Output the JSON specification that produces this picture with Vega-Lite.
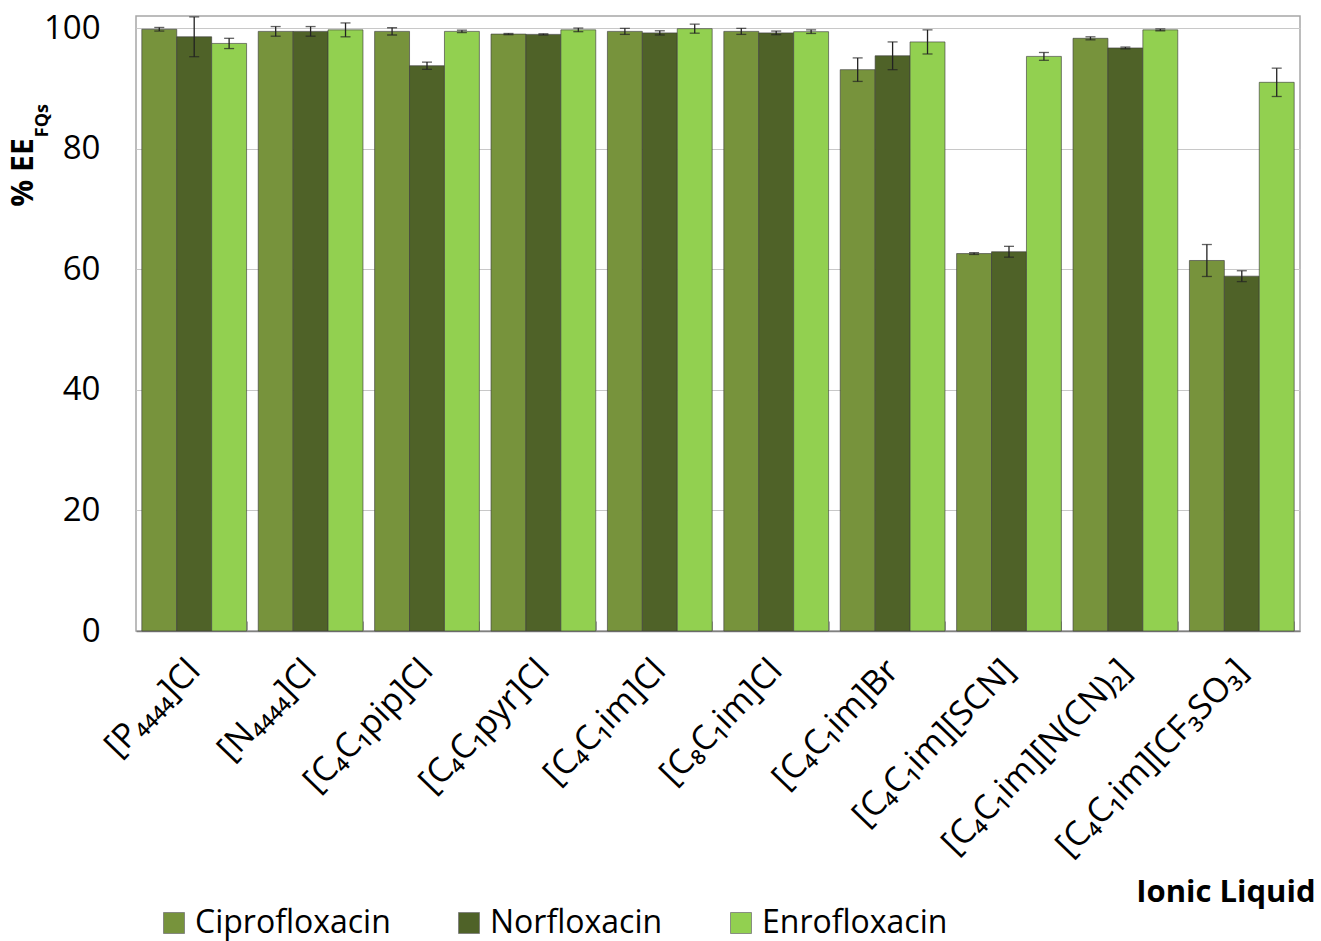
{
  "$schema": "https://vega.github.io/schema/vega-lite/v6.json",
  "autosize": {"type": "none"},
  "padding": {"left": 136, "top": 16, "right": 21, "bottom": 310},
  "width": 1164,
  "height": 615,
  "background": "white",
  "config": {
    "font": "Open Sans",
    "view": {"stroke": "#a6a6a6", "strokeWidth": 1.5}
  },
  "title": {
    "text": "FQs", "orient": "left", "anchor": "end", "frame": "group",
    "fontSize": 18, "fontWeight": "bold", "color": "#000", "angle": -90,
    "offset": -44, "dx": -88
  },
  "data": {
    "values": [
      {"il": "[P₄₄₄₄]Cl", "drug": "Ciprofloxacin", "v": 99.8, "lo": 99.5, "hi": 100.1},
      {"il": "[P₄₄₄₄]Cl", "drug": "Norfloxacin", "v": 98.55, "lo": 95.25, "hi": 101.85},
      {"il": "[P₄₄₄₄]Cl", "drug": "Enrofloxacin", "v": 97.45, "lo": 96.6, "hi": 98.3},
      {"il": "[N₄₄₄₄]Cl", "drug": "Ciprofloxacin", "v": 99.45, "lo": 98.65, "hi": 100.25},
      {"il": "[N₄₄₄₄]Cl", "drug": "Norfloxacin", "v": 99.45, "lo": 98.65, "hi": 100.25},
      {"il": "[N₄₄₄₄]Cl", "drug": "Enrofloxacin", "v": 99.7, "lo": 98.55, "hi": 100.85},
      {"il": "[C₄C₁pip]Cl", "drug": "Ciprofloxacin", "v": 99.45, "lo": 98.85, "hi": 100.05},
      {"il": "[C₄C₁pip]Cl", "drug": "Norfloxacin", "v": 93.75, "lo": 93.15, "hi": 94.35},
      {"il": "[C₄C₁pip]Cl", "drug": "Enrofloxacin", "v": 99.45, "lo": 99.25, "hi": 99.65},
      {"il": "[C₄C₁pyr]Cl", "drug": "Ciprofloxacin", "v": 99.0, "lo": 98.9, "hi": 99.1},
      {"il": "[C₄C₁pyr]Cl", "drug": "Norfloxacin", "v": 98.95, "lo": 98.85, "hi": 99.05},
      {"il": "[C₄C₁pyr]Cl", "drug": "Enrofloxacin", "v": 99.7, "lo": 99.4, "hi": 100.0},
      {"il": "[C₄C₁im]Cl", "drug": "Ciprofloxacin", "v": 99.45, "lo": 98.95, "hi": 99.95},
      {"il": "[C₄C₁im]Cl", "drug": "Norfloxacin", "v": 99.2, "lo": 98.85, "hi": 99.55},
      {"il": "[C₄C₁im]Cl", "drug": "Enrofloxacin", "v": 99.9, "lo": 99.15, "hi": 100.65},
      {"il": "[C₈C₁im]Cl", "drug": "Ciprofloxacin", "v": 99.45, "lo": 98.95, "hi": 99.95},
      {"il": "[C₈C₁im]Cl", "drug": "Norfloxacin", "v": 99.2, "lo": 98.9, "hi": 99.5},
      {"il": "[C₈C₁im]Cl", "drug": "Enrofloxacin", "v": 99.4, "lo": 99.1, "hi": 99.7},
      {"il": "[C₄C₁im]Br", "drug": "Ciprofloxacin", "v": 93.1, "lo": 91.15, "hi": 95.05},
      {"il": "[C₄C₁im]Br", "drug": "Norfloxacin", "v": 95.4, "lo": 93.1, "hi": 97.7},
      {"il": "[C₄C₁im]Br", "drug": "Enrofloxacin", "v": 97.7, "lo": 95.7, "hi": 99.7},
      {"il": "[C₄C₁im][SCN]", "drug": "Ciprofloxacin", "v": 62.6, "lo": 62.45, "hi": 62.75},
      {"il": "[C₄C₁im][SCN]", "drug": "Norfloxacin", "v": 62.9, "lo": 62.0, "hi": 63.8},
      {"il": "[C₄C₁im][SCN]", "drug": "Enrofloxacin", "v": 95.3, "lo": 94.65, "hi": 95.95},
      {"il": "[C₄C₁im][N(CN)₂]", "drug": "Ciprofloxacin", "v": 98.3, "lo": 98.05, "hi": 98.55},
      {"il": "[C₄C₁im][N(CN)₂]", "drug": "Norfloxacin", "v": 96.7, "lo": 96.55, "hi": 96.85},
      {"il": "[C₄C₁im][N(CN)₂]", "drug": "Enrofloxacin", "v": 99.7, "lo": 99.55, "hi": 99.85},
      {"il": "[C₄C₁im][CF₃SO₃]", "drug": "Ciprofloxacin", "v": 61.45, "lo": 58.8, "hi": 64.1},
      {"il": "[C₄C₁im][CF₃SO₃]", "drug": "Norfloxacin", "v": 58.85, "lo": 57.95, "hi": 59.75},
      {"il": "[C₄C₁im][CF₃SO₃]", "drug": "Enrofloxacin", "v": 91.0, "lo": 88.65, "hi": 93.35}
    ]
  },
  "encoding": {
    "x": {
      "field": "il", "type": "nominal", "sort": null,
      "scale": {"paddingInner": 0.1, "paddingOuter": 0.05},
      "axis": {
        "title": "Ionic Liquid",
        "titleFont": "Open Sans", "titleFontSize": 31, "titleFontWeight": "bold", "titleColor": "#000",
        "titleAnchor": "end", "titleAlign": "right", "titleBaseline": "middle",
        "titleX": 1179, "titleY": 261,
        "labelAngle": -46, "labelAlign": "right", "labelBaseline": "middle",
        "labelFontSize": 34, "labelColor": "#000", "labelPadding": 44, "labelLimit": 0,
        "ticks": true, "tickBand": "extent", "tickSize": -10, "tickColor": "#a6a6a6",
        "domainColor": "#808080", "domainWidth": 1.5, "grid": false
      }
    },
    "xOffset": {"field": "drug", "type": "nominal", "sort": ["Ciprofloxacin", "Norfloxacin", "Enrofloxacin"], "scale": {"paddingInner": 0, "paddingOuter": 0}}
  },
  "layer": [
    {
      "mark": {"type": "bar", "stroke": "#3d3d3d", "strokeWidth": 0.8, "strokeOpacity": 0.8},
      "encoding": {
        "y": {
          "field": "v", "type": "quantitative",
          "scale": {"domain": [0, 102], "nice": false},
          "axis": {
            "title": "% EE", "titleFontSize": 30, "titleFontWeight": "bold", "titleColor": "#000",
            "titleAngle": -90, "titleAlign": "center", "titleBaseline": "middle", "titleX": -113, "titleY": 156,
            "values": [0, 20, 40, 60, 80, 100],
            "labelFontSize": 33, "labelColor": "#000", "labelPadding": 36,
            "ticks": false, "domain": false,
            "grid": true, "gridColor": "#c8c8c8", "gridWidth": 1.2
          }
        },
        "color": {
          "field": "drug", "type": "nominal",
          "sort": ["Ciprofloxacin", "Norfloxacin", "Enrofloxacin"],
          "scale": {"domain": ["Ciprofloxacin", "Norfloxacin", "Enrofloxacin"], "range": ["#77933c", "#4f6228", "#92d050"]},
          "legend": {
            "title": null, "orient": "none", "direction": "horizontal",
            "legendX": 22, "legendY": 891,
            "symbolType": "square", "symbolSize": 441, "symbolStrokeColor": "#777", "symbolStrokeWidth": 0.8,
            "labelFontSize": 32, "labelColor": "#000", "labelOffset": 5, "columnPadding": 62, "labelLimit": 0
          }
        }
      }
    },
    {
      "mark": {"type": "rule", "color": "#222", "strokeWidth": 1.3},
      "encoding": {
        "y": {"field": "lo", "type": "quantitative"},
        "y2": {"field": "hi"}
      }
    },
    {
      "mark": {"type": "tick", "color": "#222", "thickness": 1.3, "size": 10, "orient": "horizontal"},
      "encoding": {"y": {"field": "lo", "type": "quantitative"}}
    },
    {
      "mark": {"type": "tick", "color": "#222", "thickness": 1.3, "size": 10, "orient": "horizontal"},
      "encoding": {"y": {"field": "hi", "type": "quantitative"}}
    }
  ]
}
